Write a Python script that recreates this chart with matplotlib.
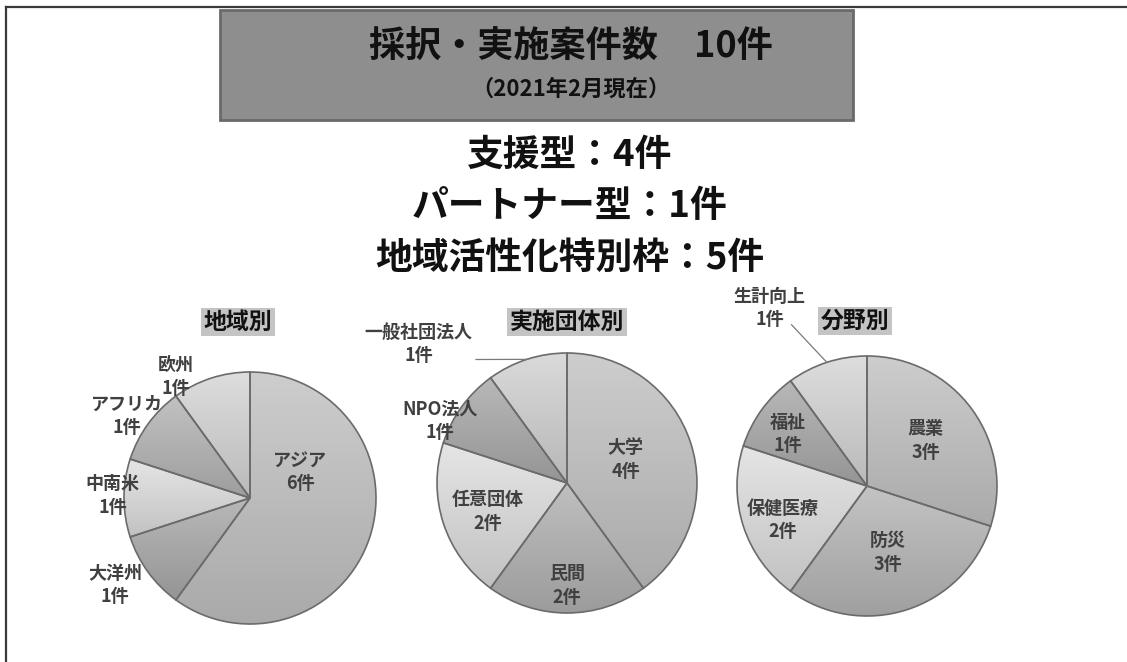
import numpy as np
import matplotlib
matplotlib.use('Agg')
import matplotlib.pyplot as plt
from matplotlib.colors import LinearSegmentedColormap, to_rgb
from matplotlib.lines import Line2D
from matplotlib.patches import Rectangle

plt.rcParams['font.family'] = ['Noto Sans CJK JP', 'DejaVu Sans']

# ---- data ----
title = '採択・実施案件数　10件'
subtitle = '（2021年2月現在）'
summary = ['支援型：4件', 'パートナー型：1件', '地域活性化特別枠：5件']

region_title = '地域別'
region_labels = ['アジア', '大洋州', '中南米', 'アフリカ', '欧州']
region_counts = [6, 1, 1, 1, 1]

org_title = '実施団体別'
org_labels = ['大学', '民間', '任意団体', 'NPO法人', '一般社団法人']
org_counts = [4, 2, 2, 1, 1]

field_title = '分野別'
field_labels = ['農業', '防災', '保健医療', '福祉', '生計向上']
field_counts = [3, 3, 2, 1, 1]

# ---- layout (pixels) ----
W, H = 1127, 662
fig = plt.figure(figsize=(W / 100, H / 100), dpi=100)

def fx(x):
    return x / W

def fy(y):
    return 1 - y / H

# frame lines
fig.add_artist(Line2D([fx(6), 1], [fy(7), fy(7)], transform=fig.transFigure, color='#3a3a3a', lw=1.6))
fig.add_artist(Line2D([fx(6), fx(6)], [0, fy(7)], transform=fig.transFigure, color='#3a3a3a', lw=1.6))

# header box
fig.add_artist(Rectangle((fx(220), fy(120)), fx(853) - fx(220), fy(10) - fy(120),
                         transform=fig.transFigure, fc='#8e8e8e', ec='#6a6a6a', lw=2))
fig.text(fx(571), fy(47), title, ha='center', va='center', fontsize=26, fontweight='bold', color='#111111')
fig.text(fx(571), fy(89), subtitle, ha='center', va='center', fontsize=16, fontweight='bold', color='#111111')

for s, y in zip(summary, [155, 206, 258]):
    fig.text(fx(570), fy(y), s, ha='center', va='center', fontsize=26.5, fontweight='bold', color='#111111')

pies = [
    dict(labels=region_labels, counts=region_counts, title=region_title,
         c=(250, 498), r=126, tpos=(238, 322),
         colors=['#bebebe', '#a9a9a9', '#d6d6d6', '#b2b2b2', '#cecece'],
         lpos=[(0.40, 0.21), (-1.07, -0.69), (-1.09, 0.02), (-0.98, 0.65), (-0.59, 0.96)],
         leader=None),
    dict(labels=org_labels, counts=org_counts, title=org_title,
         c=(567, 483), r=130, tpos=(567, 322),
         colors=['#bebebe', '#b0b0b0', '#d6d6d6', '#a9a9a9', '#cbcbcb'],
         lpos=[(0.45, 0.18), (0.0, -0.79), (-0.61, -0.22), (-0.98, 0.48), (-1.14, 1.07)],
         leader=(4, (-0.70, 0.95))),
    dict(labels=field_labels, counts=field_counts, title=field_title,
         c=(867, 486), r=130, tpos=(855, 321),
         colors=['#bebebe', '#b4b4b4', '#d6d6d6', '#a9a9a9', '#cecece'],
         lpos=[(0.45, 0.35), (0.16, -0.51), (-0.65, -0.26), (-0.61, 0.40), (-0.75, 1.37)],
         leader=(4, (-0.58, 1.24))),
]

def adjust(color, d):
    return tuple(np.clip(np.array(to_rgb(color)) + d, 0, 1))

grad = np.linspace(0, 1, 256).reshape(-1, 1)

for p in pies:
    cx, cy = p['c']
    r = p['r']
    ax = fig.add_axes([fx(cx - r), fy(cy + r), 2 * r / W, 2 * r / H])
    wedges, _ = ax.pie(p['counts'], colors=p['colors'], startangle=90, counterclock=False,
                       radius=1, wedgeprops=dict(edgecolor='#6b6b6b', linewidth=1.2))
    for w, col in zip(wedges, p['colors']):
        x0, y0, x1, y1 = w.get_path().get_extents().extents
        cmap = LinearSegmentedColormap.from_list('g', [adjust(col, 0.06), adjust(col, -0.08)])
        im = ax.imshow(grad, cmap=cmap, extent=(x0, x1, y0, y1), origin='upper',
                       aspect='auto', zorder=w.get_zorder() - 0.5)
        im.set_clip_path(w)
        w.set_facecolor('none')
    ax.set_xlim(-1, 1)
    ax.set_ylim(-1, 1)
    ax.set_aspect('equal')
    ax.axis('off')

    for lab, n, (lx, ly) in zip(p['labels'], p['counts'], p['lpos']):
        ax.text(lx, ly, f'{lab}\n{n}件', ha='center', va='center', fontsize=13,
                fontweight='bold', color='#404040', linespacing=1.3, clip_on=False, zorder=5)

    if p['leader'] is not None:
        i, (sx, sy) = p['leader']
        w = wedges[i]
        th = np.deg2rad((w.theta1 + w.theta2) / 2)
        ax.plot([sx, np.cos(th)], [sy, np.sin(th)], color='#7a7a7a', lw=0.9, clip_on=False, zorder=4)

    tx, ty = p['tpos']
    fig.text(fx(tx), fy(ty), p['title'], ha='center', va='center', fontsize=16.5,
             fontweight='bold', color='#111111',
             bbox=dict(boxstyle='square,pad=0.12', fc='#c4c4c4', ec='none'))

fig.savefig('out.png', dpi=100)
